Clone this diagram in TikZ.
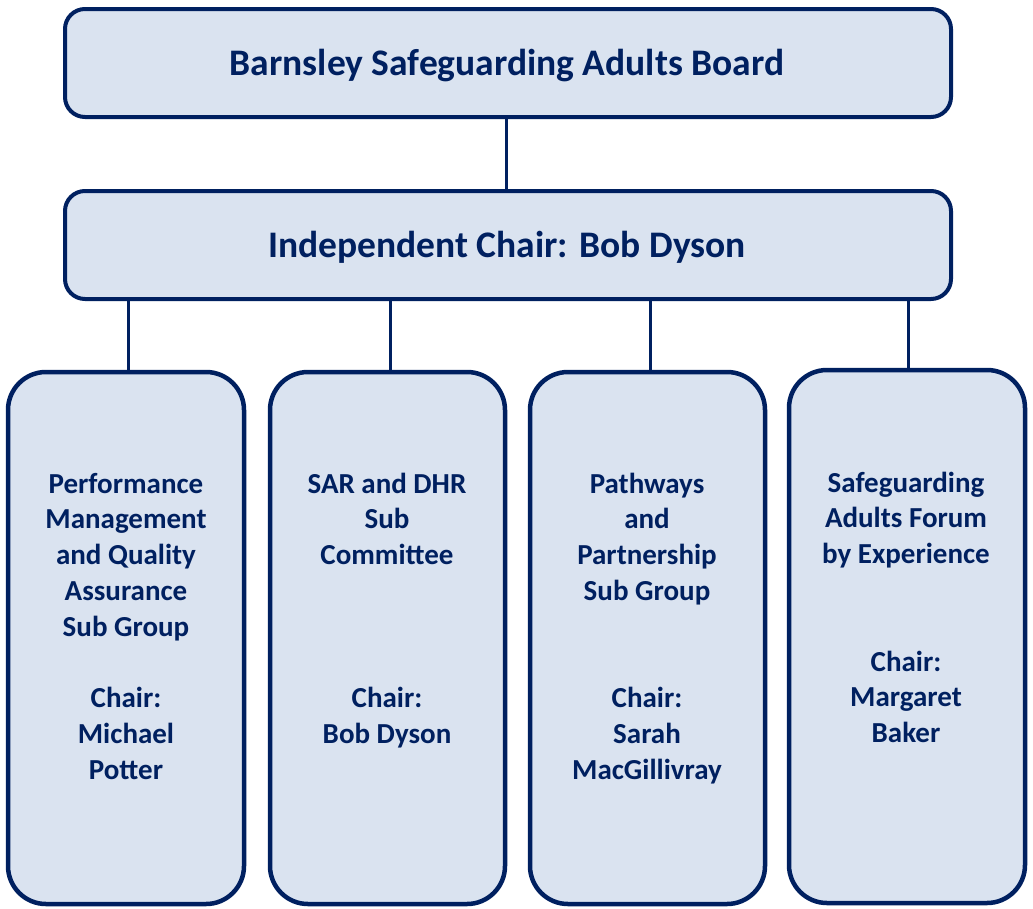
\documentclass[tikz,border=0pt]{standalone}
\usepackage{fontspec}
\setmainfont{Carlito}
\definecolor{navy}{HTML}{002060}
\definecolor{boxfill}{HTML}{DAE3F0}
\begin{document}
\begin{tikzpicture}[x=1pt,y=-1pt,
  headbox/.style={draw=navy,fill=boxfill,line width=4pt,rounded corners=20pt,inner sep=0pt},
  subbox/.style={draw=navy,fill=boxfill,line width=4.5pt,rounded corners=38pt,inner sep=0pt},
  link/.style={draw=navy,line width=3pt},
  headtext/.style={font=\fontsize{37.5}{40}\selectfont\bfseries,text=navy,inner sep=0pt,anchor=base},
  subtext/.style={font=\fontsize{29}{35.8}\selectfont\bfseries,text=navy,inner sep=0pt,align=center,anchor=base}]
\useasboundingbox (0,0) rectangle (1033,908);
% header boxes
\path[headbox] (65,9) rectangle (951,117);
\path[headbox] (65,191) rectangle (951,299);
% sub boxes
\path[subbox] (8,372) rectangle (244,904);
\path[subbox] (270,372) rectangle (505,904);
\path[subbox] (530,372) rectangle (765,904);
\path[subbox] (789,370) rectangle (1025,903);
% connector end points
\coordinate (boardbot) at (506,117);
\coordinate (chairtop) at (506,191);
\coordinate (c1) at (128,299); \coordinate (s1) at (128,372);
\coordinate (c2) at (390,299); \coordinate (s2) at (390,372);
\coordinate (c3) at (650,299); \coordinate (s3) at (650,372);
\coordinate (c4) at (908,299); \coordinate (s4) at (908,370);
\draw[link] (boardbot) -- (chairtop);
\draw[link] (c1) -- (s1);
\draw[link] (c2) -- (s2);
\draw[link] (c3) -- (s3);
\draw[link] (c4) -- (s4);
% texts (anchor base = baseline of last line)
\node[headtext] (t0) at (507,75) {Barnsley Safeguarding Adults Board};
\node[headtext] (t1) at (507,257) {Independent Chair: Bob Dyson};
\node[subtext] (p1) at (126,779.4) {Performance\\Management\\and Quality\\Assurance\\Sub Group\\[35.8pt]Chair:\\Michael\\Potter};
\node[subtext] (p2) at (387,743.6) {SAR and DHR\\Sub\\Committee\\[107.4pt]Chair:\\Bob Dyson};
\node[subtext] (p3) at (647,779.4) {Pathways\\and\\Partnership\\Sub Group\\[71.6pt]Chair:\\Sarah\\MacGillivray};
\node[subtext] (p4) at (906,742.6) {Safeguarding\\Adults Forum\\by Experience\\[71.6pt]Chair:\\Margaret\\Baker};
\end{tikzpicture}
\end{document}
